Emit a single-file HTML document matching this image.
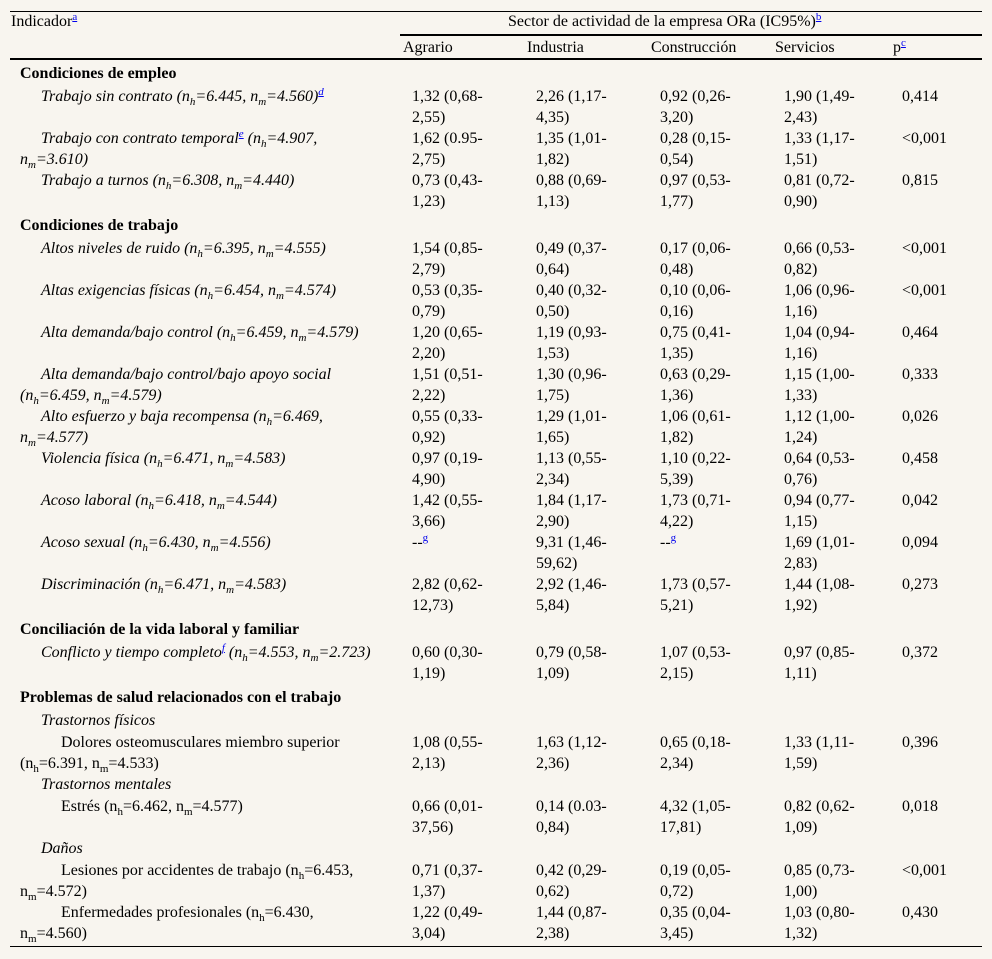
<!DOCTYPE html>
<html><head><meta charset="utf-8">
<style>
html,body{margin:0;padding:0;}
body{width:992px;height:959px;background:#f8f5ef;position:relative;overflow:hidden;font-family:"Liberation Serif",serif;font-size:16px;color:#000;}
.t{position:absolute;white-space:nowrap;line-height:21px;height:21px;}
.h{font-size:16px;}
.b{font-weight:bold;}
.i{font-style:italic;}
sub{font-size:11px;vertical-align:-4px;line-height:0;}
sup{font-size:11px;vertical-align:6px;line-height:0;}
sup a{color:#00e;}
.rule{position:absolute;background:#000;}
</style></head>
<body>
<div class="rule" style="left:10px;top:11px;width:972px;height:1px"></div>
<div class="rule" style="left:400px;top:34px;width:582px;height:2px"></div>
<div class="rule" style="left:10px;top:58px;width:972px;height:2px"></div>
<div class="rule" style="left:10px;top:946px;width:972px;height:1px"></div>
<div class="t h" style="left:11px;top:11px">Indicador<sup><a href="#a">a</a></sup></div>
<div class="t h" style="left:508px;top:11px">Sector de actividad de la empresa ORa (IC95%)<sup><a href="#b">b</a></sup></div>
<div class="t h" style="left:403px;top:37px">Agrario</div>
<div class="t h" style="left:527px;top:37px">Industria</div>
<div class="t h" style="left:651px;top:37px">Construcción</div>
<div class="t h" style="left:775px;top:37px">Servicios</div>
<div class="t h" style="left:893px;top:37px">p<sup><a href="#c">c</a></sup></div>
<script>
const H=(a,b)=>'(n<sub>h</sub>=' + a + ', n<sub>m</sub>=' + b + ')';
const rows=[
 [72,[[20,'Condiciones de empleo','b']],null],
 [95,[[41,'Trabajo sin contrato '+H('6.445','4.560')+'<sup><a href="#d">d</a></sup>','i']],['1,32 (0,68-|2,55)','2,26 (1,17-|4,35)','0,92 (0,26-|3,20)','1,90 (1,49-|2,43)','0,414']],
 [137,[[41,'Trabajo con contrato temporal<sup><a href="#e">e</a></sup> (n<sub>h</sub>=4.907,','i'],[20,'n<sub>m</sub>=3.610)','i']],['1,62 (0.95-|2,75)','1,35 (1,01-|1,82)','0,28 (0,15-|0,54)','1,33 (1,17-|1,51)','<0,001']],
 [179,[[41,'Trabajo a turnos '+H('6.308','4.440'),'i']],['0,73 (0,43-|1,23)','0,88 (0,69-|1,13)','0,97 (0,53-|1,77)','0,81 (0,72-|0,90)','0,815']],
 [224,[[20,'Condiciones de trabajo','b']],null],
 [247,[[41,'Altos niveles de ruido '+H('6.395','4.555'),'i']],['1,54 (0,85-|2,79)','0,49 (0,37-|0,64)','0,17 (0,06-|0,48)','0,66 (0,53-|0,82)','<0,001']],
 [289,[[41,'Altas exigencias físicas '+H('6.454','4.574'),'i']],['0,53 (0,35-|0,79)','0,40 (0,32-|0,50)','0,10 (0,06-|0,16)','1,06 (0,96-|1,16)','<0,001']],
 [331,[[41,'Alta demanda/bajo control '+H('6.459','4.579'),'i']],['1,20 (0,65-|2,20)','1,19 (0,93-|1,53)','0,75 (0,41-|1,35)','1,04 (0,94-|1,16)','0,464']],
 [373,[[41,'Alta demanda/bajo control/bajo apoyo social','i'],[20,H('6.459','4.579'),'i']],['1,51 (0,51-|2,22)','1,30 (0,96-|1,75)','0,63 (0,29-|1,36)','1,15 (1,00-|1,33)','0,333']],
 [415,[[41,'Alto esfuerzo y baja recompensa (n<sub>h</sub>=6.469,','i'],[20,'n<sub>m</sub>=4.577)','i']],['0,55 (0,33-|0,92)','1,29 (1,01-|1,65)','1,06 (0,61-|1,82)','1,12 (1,00-|1,24)','0,026']],
 [457,[[41,'Violencia física '+H('6.471','4.583'),'i']],['0,97 (0,19-|4,90)','1,13 (0,55-|2,34)','1,10 (0,22-|5,39)','0,64 (0,53-|0,76)','0,458']],
 [499,[[41,'Acoso laboral '+H('6.418','4.544'),'i']],['1,42 (0,55-|3,66)','1,84 (1,17-|2,90)','1,73 (0,71-|4,22)','0,94 (0,77-|1,15)','0,042']],
 [541,[[41,'Acoso sexual '+H('6.430','4.556'),'i']],['--<sup><a href="#g">g</a></sup>','9,31 (1,46-|59,62)','--<sup><a href="#g">g</a></sup>','1,69 (1,01-|2,83)','0,094']],
 [583,[[41,'Discriminación '+H('6.471','4.583'),'i']],['2,82 (0,62-|12,73)','2,92 (1,46-|5,84)','1,73 (0,57-|5,21)','1,44 (1,08-|1,92)','0,273']],
 [628,[[20,'Conciliación de la vida laboral y familiar','b']],null],
 [651,[[41,'Conflicto y tiempo completo<sup><a href="#f">f</a></sup> '+H('4.553','2.723'),'i']],['0,60 (0,30-|1,19)','0,79 (0,58-|1,09)','1,07 (0,53-|2,15)','0,97 (0,85-|1,11)','0,372']],
 [696,[[20,'Problemas de salud relacionados con el trabajo','b']],null],
 [719,[[41,'Trastornos físicos','i']],null],
 [741,[[61,'Dolores osteomusculares miembro superior',''],[20,H('6.391','4.533'),'']],['1,08 (0,55-|2,13)','1,63 (1,12-|2,36)','0,65 (0,18-|2,34)','1,33 (1,11-|1,59)','0,396']],
 [783,[[41,'Trastornos mentales','i']],null],
 [805,[[61,'Estrés '+H('6.462','4.577'),'']],['0,66 (0,01-|37,56)','0,14 (0.03-|0,84)','4,32 (1,05-|17,81)','0,82 (0,62-|1,09)','0,018']],
 [847,[[41,'Daños','i']],null],
 [869,[[61,'Lesiones por accidentes de trabajo (n<sub>h</sub>=6.453,',''],[20,'n<sub>m</sub>=4.572)','']],['0,71 (0,37-|1,37)','0,42 (0,29-|0,62)','0,19 (0,05-|0,72)','0,85 (0,73-|1,00)','<0,001']],
 [911,[[61,'Enfermedades profesionales (n<sub>h</sub>=6.430,',''],[20,'n<sub>m</sub>=4.560)','']],['1,22 (0,49-|3,04)','1,44 (0,87-|2,38)','0,35 (0,04-|3,45)','1,03 (0,80-|1,32)','0,430']]
];
const colX=[412,536,660,784,902];
const colNames=['agrario','industria','construccion','servicios','p-value'];
rows.forEach((r,ri)=>{
  r[1].forEach((l,li)=>{
    const d=document.createElement('div');
    d.className='t '+l[2];
    d.style.left=l[0]+'px';
    d.style.top=(r[0]-9+li*21)+'px';
    d.innerHTML=l[1];
    
    
    document.body.appendChild(d);
  });
  if(r[2]) r[2].forEach((v,ci)=>{
    v.split('|').forEach((part,pi)=>{
      const d=document.createElement('div');
      d.className='t';
      d.style.left=colX[ci]+'px';
      d.style.top=(r[0]-9+pi*21)+'px';
      d.innerHTML=part.replace('<0','&lt;0');
      
      
      document.body.appendChild(d);
    });
  });
});
</script>
</body></html>
